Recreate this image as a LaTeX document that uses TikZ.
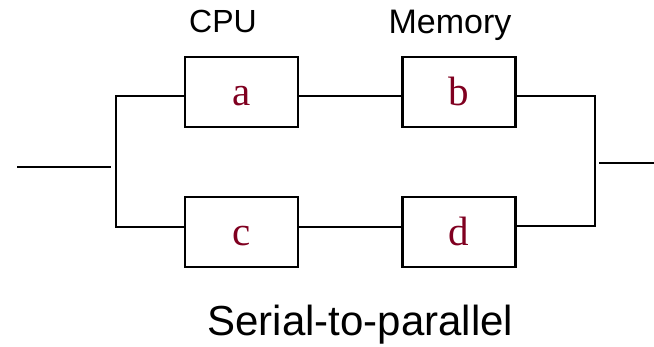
\documentclass[tikz,border=0pt]{standalone}
\usepackage{fontspec}
\setmainfont{Liberation Serif}
\setsansfont{Liberation Sans}
\definecolor{maroon}{RGB}{128,0,32}
\begin{document}
\begin{tikzpicture}[x=1pt,y=-1pt,
  blk/.style={draw=black,line width=2.8pt,minimum width=113pt,minimum height=70pt,
    inner sep=0pt,text=maroon,font=\fontsize{41}{41}\selectfont,text height=28pt,text depth=0pt},
  wire/.style={draw=black,line width=2.4pt},
  lbl/.style={anchor=base,inner sep=0pt}]
\useasboundingbox (0,0) rectangle (654,347);
\node[blk] (a) at (241.5,92) {a};
\node[blk] (b) at (459,92) {b};
\node[blk] (c) at (241.5,232) {c};
\node[blk] (d) at (459,232) {d};
\coordinate (lt) at (116,96);
\coordinate (lb) at (116,227);
\coordinate (rt) at (595,96);
\coordinate (rb) at (595,226);
\coordinate (ins) at (17,167);
\coordinate (ine) at (111,167);
\coordinate (outs) at (599,163);
\coordinate (oute) at (654,163);
\draw[wire] (a.west |- lt) -- (lt) -- (lb) -- (c.west |- lb);
\draw[wire] (a.east |- lt) -- (b.west |- lt);
\draw[wire] (c.east |- lb) -- (d.west |- lb);
\draw[wire] (b.east |- rt) -- (rt) -- (rb) -- (d.east |- rb);
\draw[wire] (ins) -- (ine);
\draw[wire] (outs) -- (oute);
\node[lbl,font=\sffamily\fontsize{32}{32}\selectfont] (cpu) at (223,33) {CPU};
\node[lbl,font=\sffamily\fontsize{34}{34}\selectfont] (mem) at (450,34) {Memory};
\node[lbl,font=\sffamily\fontsize{42}{42}\selectfont] (cap) at (360.5,336) {Serial-to-parallel};
\end{tikzpicture}
\end{document}
